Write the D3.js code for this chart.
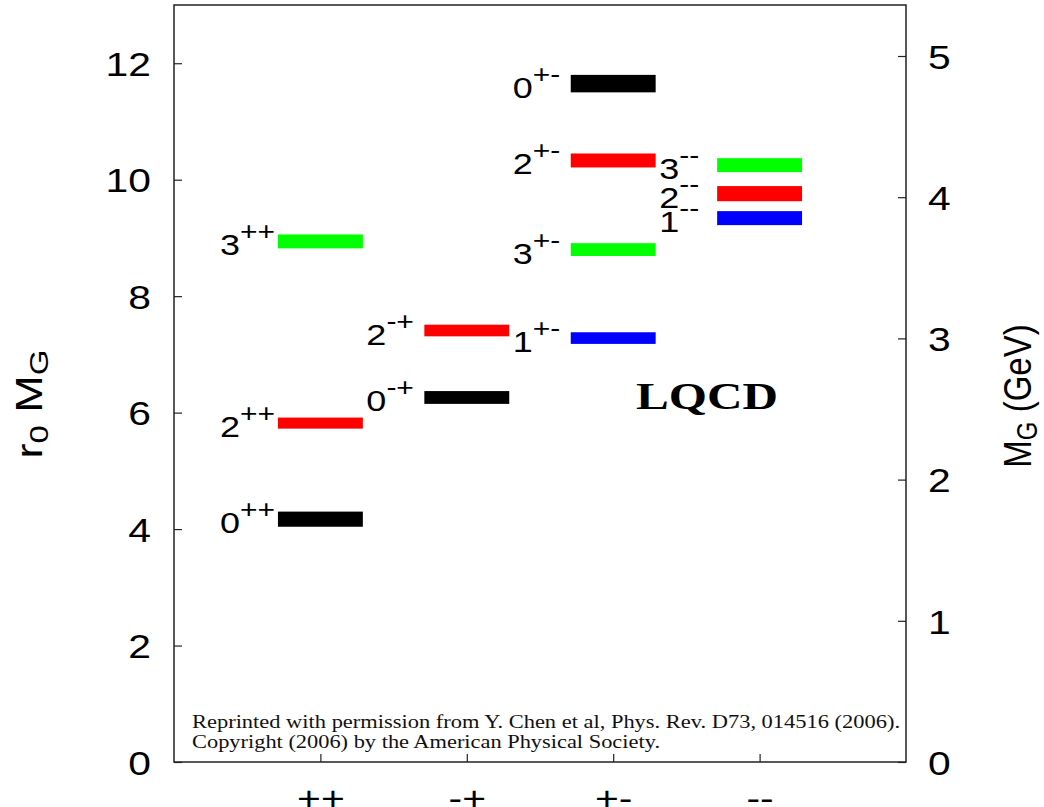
<!DOCTYPE html>
<html><head><meta charset="utf-8">
<script src="https://cdn.jsdelivr.net/npm/d3@7"></script>
<style>body{margin:0;background:#fff}</style>
</head><body>
<svg id="chart" width="1044" height="807"></svg>
<script>
// ---- data ----
const categories = ["++", "-+", "+-", "--"];
const stateJ    = [0, 2, 3, 0, 2, 0, 2, 3, 1, 3, 2, 1];
const statePC   = ["++", "++", "++", "-+", "-+", "+-", "+-", "+-", "+-", "--", "--", "--"];
const stateMass = [4.17, 5.82, 8.94, 6.26, 7.41, 11.65, 10.33, 8.80, 7.28, 10.25, 9.76, 9.34];
const stateErr  = [0.13, 0.095, 0.12, 0.11, 0.10, 0.15, 0.12, 0.11, 0.10, 0.12, 0.13, 0.12];
const leftTicks  = [0, 2, 4, 6, 8, 10, 12];
const rightTicks = [0, 1, 2, 3, 4, 5];
const r0MaxValue = 13;
const gevPerR0Unit = 0.4124;
const creditLines = [
  "Reprinted with permission from Y. Chen et al, Phys. Rev. D73, 014516 (2006).",
  "Copyright (2006) by the American Physical Society."
];
const annotation = "LQCD";

// ---- layout ----
const svg = d3.select("#chart");
const L = 174, R = 906, T = 5, B = 762;
const SANS = "'Liberation Sans', Arial, Helvetica, sans-serif";
const SERIF = "'Liberation Serif', 'Times New Roman', serif";
const SX = 1.2;

const x = d3.scalePoint().domain(categories).range([L, R]).padding(1);
const y = d3.scaleLinear().domain([0, r0MaxValue]).range([B, T]);
const y2 = d3.scaleLinear().domain([0, r0MaxValue * gevPerR0Unit]).range([B, T]);
const colorByJ = d3.scaleOrdinal().domain([0, 1, 2, 3]).range(["#000000", "#0000ff", "#ff0000", "#00ff00"]);
const half = 0.29 * x.step();

const states = stateJ.map((j, i) => ({ j, pc: statePC[i], m: stateMass[i], e: stateErr[i] }));

// frame
svg.append("rect").attr("x", L).attr("y", T).attr("width", R - L).attr("height", B - T)
  .attr("fill", "none").attr("stroke", "#222").attr("stroke-width", 1.5);

// left axis
const gl = svg.append("g").attr("transform", `translate(${L},0)`)
  .call(d3.axisLeft(y).tickValues(leftTicks).tickSize(-8).tickFormat(d3.format("d")));
gl.select(".domain").remove();
gl.selectAll(".tick line").attr("stroke", "#222").attr("stroke-width", 1.2);
gl.selectAll(".tick text").attr("x", null).attr("dy", "0.36em")
  .attr("transform", `translate(-23,0) scale(${SX},1)`)
  .attr("text-anchor", "end").attr("fill", "#000")
  .style("font-family", SANS).style("font-size", "34px");

// right axis
const gr = svg.append("g").attr("transform", `translate(${R},0)`)
  .call(d3.axisRight(y2).tickValues(rightTicks).tickSize(-8).tickFormat(d3.format("d")));
gr.select(".domain").remove();
gr.selectAll(".tick line").attr("stroke", "#222").attr("stroke-width", 1.2);
gr.selectAll(".tick text").attr("x", null).attr("dy", "0.36em")
  .attr("transform", `translate(22,0) scale(${SX},1)`)
  .attr("text-anchor", "start").attr("fill", "#000")
  .style("font-family", SANS).style("font-size", "34px");

// bottom axis
const gb = svg.append("g").attr("transform", `translate(0,${B})`)
  .call(d3.axisBottom(x).tickSize(-8));
gb.select(".domain").remove();
gb.selectAll(".tick line").attr("stroke", "#222").attr("stroke-width", 1.2);
gb.selectAll(".tick text").attr("y", null).attr("dy", null)
  .attr("transform", `translate(0,48) scale(${SX},1)`)
  .attr("text-anchor", "middle").attr("fill", "#000")
  .style("font-family", SANS).style("font-size", "34px");

// bars (value +- error bands)
svg.append("g").selectAll("rect").data(states).join("rect")
  .attr("x", d => x(d.pc) - half)
  .attr("width", 2 * half)
  .attr("y", d => y(d.m + d.e))
  .attr("height", d => y(d.m - d.e) - y(d.m + d.e))
  .attr("fill", d => colorByJ(d.j));

// state labels J^{PC}
const lab = svg.append("g").selectAll("text").data(states).join("text")
  .attr("transform", d => `translate(${x(d.pc) - half - 58},${y(d.m) + 14}) scale(${SX},1)`)
  .attr("text-anchor", "start").attr("fill", "#000")
  .style("font-family", SANS);
lab.append("tspan").style("font-size", "30px").text(d => d.j);
lab.append("tspan").style("font-size", "25px").attr("dy", -15).text(d => d.pc);

// LQCD annotation
svg.append("text").attr("x", 636).attr("y", 409)
  .attr("textLength", 142).attr("lengthAdjust", "spacingAndGlyphs")
  .style("font-family", SERIF).style("font-weight", "bold").style("font-size", "37px")
  .text(annotation);

// credit text
svg.append("g").selectAll("text").data(creditLines).join("text")
  .attr("x", 192).attr("y", (d, i) => 728 + i * 20)
  .attr("textLength", (d, i) => i === 0 ? 708 : 468).attr("lengthAdjust", "spacingAndGlyphs")
  .style("font-family", SERIF).style("font-size", "19px").attr("fill", "#111")
  .text(d => d);

// left title r0 MG
const tl = svg.append("text")
  .attr("transform", `translate(42,404) rotate(-90) scale(1.5,1.2)`)
  .attr("text-anchor", "middle").style("font-family", SANS).style("font-size", "30px");
tl.append("tspan").text("r");
tl.append("tspan").attr("dy", 5).style("font-size", "22px").text("0");
tl.append("tspan").attr("dy", -5).text(" M");
tl.append("tspan").attr("dy", 5).style("font-size", "22px").text("G");

// right title MG (GeV)
const tr = svg.append("text")
  .attr("transform", `translate(1031,396) rotate(-90) scale(1,1.2)`)
  .attr("text-anchor", "middle").style("font-family", SANS).style("font-size", "33px");
tr.append("tspan").text("M");
tr.append("tspan").attr("dy", 5).style("font-size", "24px").text("G");
tr.append("tspan").attr("dy", -5).text(" (GeV)");
</script>
</body></html>
